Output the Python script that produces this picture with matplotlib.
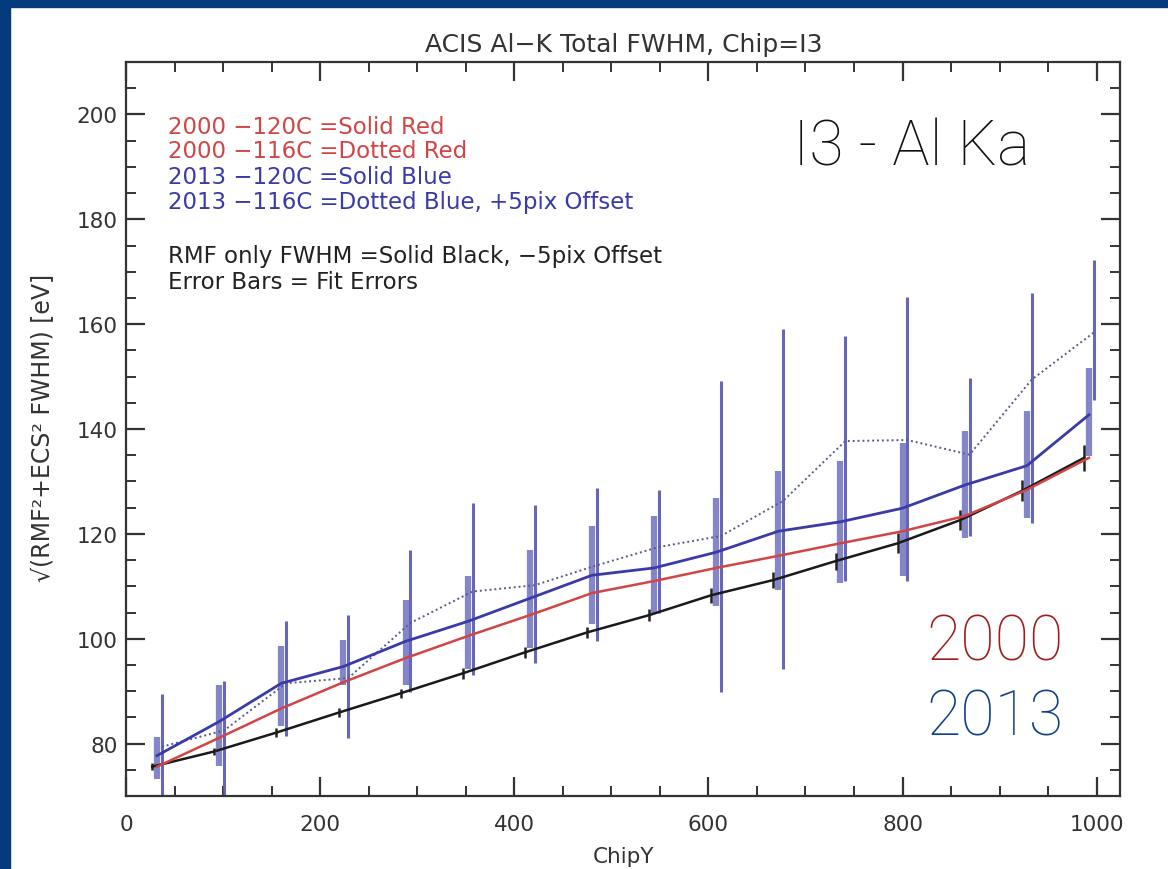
import matplotlib
matplotlib.use("Agg")
import matplotlib.pyplot as plt
from matplotlib.ticker import MultipleLocator
import numpy as np

# ---- data ----
chipy = [32, 96, 160, 224, 288, 352, 416, 480, 544, 608, 672, 736, 800, 864, 928, 992]

red_2000_120 = [75.6, 81.1, 86.7, 91.7, 96.3, 100.5, 104.5, 108.7, 111.0, 113.5, 115.8, 118.2, 120.5, 123.4, 128.4, 134.5]

blue_2013_120 = [77.7, 84.2, 91.5, 94.7, 99.5, 103.3, 107.7, 112.1, 113.5, 116.5, 120.5, 122.3, 124.9, 129.3, 133.0, 142.7]
blue_2013_120_lo = [73.3, 75.8, 83.4, 91.1, 91.1, 94.3, 98.2, 102.9, 104.9, 106.2, 109.3, 110.6, 111.9, 119.2, 123.0, 134.9]
blue_2013_120_hi = [81.3, 91.1, 98.7, 99.7, 107.3, 111.9, 116.9, 121.5, 123.4, 126.8, 132.0, 133.9, 137.4, 139.7, 143.5, 151.7]

blue_2013_116 = [79.4, 82.5, 91.5, 92.5, 103.0, 109.0, 110.2, 114.0, 117.5, 119.6, 126.3, 137.7, 137.9, 135.1, 149.4, 158.4]
blue_2013_116_lo = [69.0, 69.0, 81.5, 81.0, 89.9, 93.0, 95.3, 99.5, 104.9, 89.9, 94.3, 111.0, 111.0, 119.6, 122.1, 145.6]
blue_2013_116_hi = [89.4, 92.0, 103.3, 104.5, 116.9, 125.9, 125.5, 128.8, 128.4, 149.2, 159.0, 157.8, 165.1, 149.8, 166.0, 172.2]

rmf_only = [75.6, 78.5, 82.1, 85.9, 89.6, 93.4, 97.4, 101.2, 104.5, 108.3, 111.2, 114.8, 118.2, 122.6, 128.2, 134.5]
rmf_err = [0.6, 0.7, 0.8, 0.8, 0.9, 1.0, 1.0, 1.1, 1.2, 1.4, 1.5, 1.6, 1.9, 1.9, 2.0, 2.5]

offset_plus = 5
offset_minus = -5

legend_lines = ["2000 \u2212120C =Solid Red", "2000 \u2212116C =Dotted Red",
                "2013 \u2212120C =Solid Blue", "2013 \u2212116C =Dotted Blue, +5pix Offset"]
note_lines = ["RMF only FWHM =Solid Black, \u22125pix Offset", "Error Bars = Fit Errors"]

# ---- figure ----
W, H = 1168, 870
fig = plt.figure(figsize=(W / 100, H / 100), dpi=100)
fig.patch.set_facecolor("white")

# slide frame (blue border at top and left)
frame_col = "#033b7c"
fig.add_artist(plt.Rectangle((0, 1 - 8 / H), 1, 8 / H, transform=fig.transFigure,
                             color=frame_col, zorder=0))
fig.add_artist(plt.Rectangle((0, 0), 10 / W, 1, transform=fig.transFigure,
                             color=frame_col, zorder=0))

ax = fig.add_axes([126 / W, 1 - 797 / H, (1120 - 126) / W, (797 - 63) / H])
ax.set_xlim(0, 1024)
ax.set_ylim(70, 210)

x = np.array(chipy, dtype=float)
xp = x + offset_plus
xm = x + offset_minus

red_c = "#d24545"
blue_c = "#3a3aa8"
bar_thick = "#7070c0"
bar_thin = "#5656b0"
txt_c = "#333333"

# error bars
ax.vlines(x, blue_2013_120_lo, blue_2013_120_hi, color=bar_thick, lw=4.5, alpha=0.85, zorder=2)
ax.vlines(xp, blue_2013_116_lo, blue_2013_116_hi, color=bar_thin, lw=2.2, alpha=0.9, zorder=2)
rmf = np.array(rmf_only)
err = np.array(rmf_err)
ax.vlines(xm, rmf - err, rmf + err, color="#222222", lw=1.8, zorder=3)

# lines
ax.plot(xm, rmf_only, color="#1a1a1a", lw=1.8, zorder=4)
ax.plot(x, red_2000_120, color=red_c, lw=1.8, zorder=4)
ax.plot(x, blue_2013_120, color=blue_c, lw=2.0, zorder=5)
ax.plot(xp, blue_2013_116, color="#5a5a88", lw=1.4, ls=(0, (1.0, 1.5)), zorder=4)

# axes styling
ax.xaxis.set_major_locator(MultipleLocator(200))
ax.xaxis.set_minor_locator(MultipleLocator(50))
ax.yaxis.set_major_locator(MultipleLocator(20))
ax.yaxis.set_minor_locator(MultipleLocator(5))
ax.tick_params(which="both", direction="in", top=True, right=True, color=txt_c)
ax.tick_params(which="major", length=14, width=1.6, labelsize=15.5, labelcolor=txt_c)
ax.tick_params(which="minor", length=7, width=1.4)
ax.tick_params(axis="x", which="major", pad=13)
ax.tick_params(axis="y", which="major", pad=6)
for s in ax.spines.values():
    s.set_linewidth(1.6)
    s.set_color(txt_c)

fig.text(624 / W, 1 - 45 / H, "ACIS Al\u2212K Total FWHM, Chip=I3", fontsize=18,
         color=txt_c, ha="center", va="center")
fig.text(624 / W, 1 - 857 / H, "ChipY", fontsize=15.5, color=txt_c, ha="center", va="center")
fig.text(43 / W, 1 - 428 / H, "\u221a(RMF\u00b2+ECS\u00b2 FWHM) [eV]", fontsize=17,
         color=txt_c, ha="center", va="center", rotation=90)

# in-plot annotations
leg_cols = [red_c, red_c, blue_c, blue_c]
ys = [127, 152, 177, 203]
for t, c, y in zip(legend_lines, leg_cols, ys):
    fig.text(168 / W, 1 - y / H, t, color=c, fontsize=16.5, va="center", ha="left")
for t, y in zip(note_lines, [257, 283]):
    fig.text(168 / W, 1 - y / H, t, color="#222222", fontsize=16.5, va="center", ha="left")

fig.text(912 / W, 1 - 148 / H, "I3 - Al Ka", fontsize=45, color="#111111",
         ha="center", va="center", family="Roboto", fontweight="light")
fig.text(995 / W, 1 - 643 / H, "2000", fontsize=45, color="#a11d1d",
         ha="center", va="center", family="Roboto", fontweight="light")
fig.text(995 / W, 1 - 718 / H, "2013", fontsize=45, color="#0e3f87",
         ha="center", va="center", family="Roboto", fontweight="light")

fig.savefig("out.png", dpi=100)
